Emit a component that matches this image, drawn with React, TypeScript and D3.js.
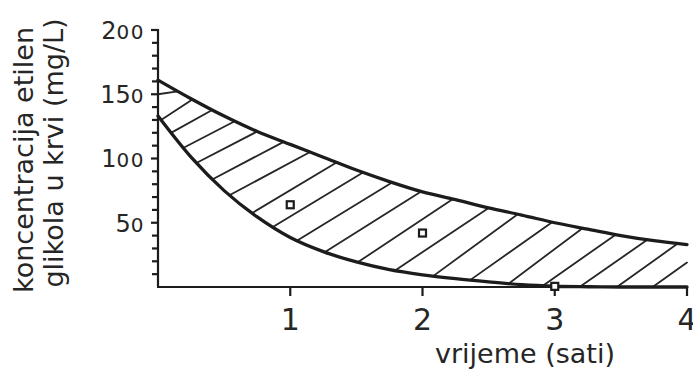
import React from "react";
import * as d3 from "d3";

// ---- data ----
const hours = [0, 0.25, 0.5, 0.75, 1, 1.25, 1.5, 1.75, 2, 2.25, 2.5, 2.75, 3, 3.25, 3.5, 3.75, 4];
const upperConc = [161, 146.5, 133, 121, 111, 101, 91, 82, 74, 68, 61.5, 56, 50, 45, 40, 36, 33];
const lowerConc = [133, 101, 75, 54.5, 38.5, 27.5, 19.5, 13.5, 9.5, 6.5, 4, 1.8, 0.6, 0.2, 0, 0, 0];

const pointHours = [1, 2, 3];
const pointConc = [64, 42, 0.5];

const yMajorTicks = [50, 100, 150, 200];
const yMinorTicks = [10, 20, 30, 40, 60, 70, 80, 90, 110, 120, 130, 140, 160, 170, 180, 190];
const xTicks = [1, 2, 3, 4];
const xTickLabels = ["1", "2", "3", "4"];

// hatch lines: where each stroke meets the lower and the upper boundary (hours)
const hatchLowerHours = [0, 0.023, 0.098, 0.19, 0.29, 0.41, 0.54, 0.71, 0.865, 1.05, 1.26, 1.51, 1.79, 2.08, 2.36, 2.65, 2.91, 3.19, 3.47, 3.74];
const hatchUpperHours = [0.149, 0.26, 0.41, 0.58, 0.75, 0.95, 1.15, 1.35, 1.55, 1.77, 1.99, 2.23, 2.5, 2.72, 2.98, 3.21, 3.46, 3.7, 3.93, 4];
const firstHatchAxisConc = 150; // first stroke starts on the y axis
const lastHatchEdgeConc = 19; // last stroke ends on the right edge

const yTitle1 = "koncentracija etilen";
const yTitle2 = "glikola u krvi (mg/L)";
const xTitle = "vrijeme (sati)";

// ---- layout ----
const W = 693;
const H = 370;
const xScale = d3.scaleLinear().domain([0, 4]).range([158, 687]);
const yScale = d3.scaleLinear().domain([0, 200]).range([287, 30]);

const INK = "#1c1c1c";
const TEXT = "#262626";
const FONT = "'DejaVu Sans', 'Liberation Sans', sans-serif";

// evaluate d3.curveMonotoneX at an arbitrary x (same tangent rule as d3)
function monotoneAt(xs: number[], ys: number[], xv: number): number {
  const n = xs.length;
  const sign = (v: number) => (v < 0 ? -1 : 1);
  const t: number[] = new Array(n).fill(0);
  for (let i = 1; i < n - 1; i++) {
    const h0 = xs[i] - xs[i - 1];
    const h1 = xs[i + 1] - xs[i];
    const s0 = (ys[i] - ys[i - 1]) / h0;
    const s1 = (ys[i + 1] - ys[i]) / h1;
    const p = (s0 * h1 + s1 * h0) / (h0 + h1);
    t[i] = (sign(s0) + sign(s1)) * Math.min(Math.abs(s0), Math.abs(s1), 0.5 * Math.abs(p)) || 0;
  }
  const hA = xs[1] - xs[0];
  t[0] = (3 * (ys[1] - ys[0]) / hA - t[1]) / 2;
  const hB = xs[n - 1] - xs[n - 2];
  t[n - 1] = (3 * (ys[n - 1] - ys[n - 2]) / hB - t[n - 2]) / 2;
  let i = 0;
  while (i < n - 2 && xv > xs[i + 1]) i++;
  const dx = xs[i + 1] - xs[i];
  const u = (xv - xs[i]) / dx;
  const y0 = ys[i];
  const y1 = ys[i + 1];
  const c0 = y0 + (dx * t[i]) / 3;
  const c1 = y1 - (dx * t[i + 1]) / 3;
  const a = 1 - u;
  return a * a * a * y0 + 3 * a * a * u * c0 + 3 * a * u * u * c1 + u * u * u * y1;
}

function splitZeros(label: string) {
  const m = label.match(/^(.*?)(0*)$/);
  return { head: m ? m[1] : label, zeros: m ? m[2] : "" };
}

export default function App() {
  const line = d3
    .line<number>()
    .x((_, i) => xScale(hours[i]))
    .curve(d3.curveMonotoneX);
  const upperPath = line.y((d) => yScale(d))(upperConc) || "";
  const lowerPath = line.y((d) => yScale(d))(lowerConc) || "";

  const hatches = hatchLowerHours.map((xl, i) => {
    const xu = hatchUpperHours[i];
    const yl = i === 0 ? firstHatchAxisConc : monotoneAt(hours, lowerConc, xl);
    const yu = i === hatchLowerHours.length - 1 ? lastHatchEdgeConc : monotoneAt(hours, upperConc, xu);
    return { x1: xScale(xl), y1: yScale(yl), x2: xScale(xu), y2: yScale(yu) };
  });

  const x0 = xScale(0);
  const y0 = yScale(0);

  return (
    <svg
      width={W}
      height={H}
      viewBox={`0 0 ${W} ${H}`}
      style={{ position: "absolute", left: 0, top: 0, background: "#ffffff" }}
    >
      {/* hatching */}
      <g stroke="#262626" strokeWidth={1.8} strokeLinecap="round">
        {hatches.map((h, i) => (
          <line key={i} x1={h.x1} y1={h.y1} x2={h.x2} y2={h.y2} />
        ))}
      </g>

      {/* axes */}
      <g stroke={INK} strokeWidth={2.2} fill="none">
        <line x1={x0} y1={y0} x2={x0} y2={yScale(200) - 1} />
        <line x1={x0 - 1} y1={y0} x2={xScale(4)} y2={y0} />
        {yMinorTicks.map((v) => (
          <line key={"m" + v} x1={x0 - 6} y1={yScale(v)} x2={x0} y2={yScale(v)} />
        ))}
        {yMajorTicks.map((v) => (
          <line key={"M" + v} x1={x0 - 7} y1={yScale(v)} x2={x0} y2={yScale(v)} />
        ))}
        {xTicks.map((v) => (
          <line key={"x" + v} x1={xScale(v)} y1={y0} x2={xScale(v)} y2={y0 + 9} />
        ))}
      </g>

      {/* boundary curves */}
      <path d={upperPath} fill="none" stroke={INK} strokeWidth={3.3} strokeLinecap="round" />
      <path d={lowerPath} fill="none" stroke={INK} strokeWidth={3.3} strokeLinecap="round" />

      {/* measured points */}
      {pointHours.map((h, i) => (
        <rect
          key={"p" + i}
          x={xScale(h) - 3.5}
          y={yScale(pointConc[i]) - 3.5}
          width={7}
          height={7}
          fill="#ffffff"
          stroke={INK}
          strokeWidth={2.2}
        />
      ))}

      {/* y tick labels (old-style zeros) */}
      <g fill={TEXT} fontFamily={FONT} textAnchor="end">
        {yMajorTicks.map((v) => {
          const { head, zeros } = splitZeros(String(v));
          return (
            <text key={"yl" + v} x={145} y={yScale(v) + 8.8} fontSize={24}>
              {head}
              <tspan fontSize={20} letterSpacing={1.5}>{zeros}</tspan>
            </text>
          );
        })}
      </g>

      {/* x tick labels */}
      <g fill={TEXT} fontFamily={FONT} textAnchor="middle" fontSize={30}>
        {xTicks.map((v, i) => (
          <text key={"xl" + v} x={xScale(v)} y={330}>
            {xTickLabels[i]}
          </text>
        ))}
      </g>

      {/* titles */}
      <g fill={TEXT} fontFamily={FONT} fontSize={27} textAnchor="middle">
        <text transform="translate(33,160) rotate(-90)">{yTitle1}</text>
        <text transform="translate(63,153) rotate(-90)">{yTitle2}</text>
        <text x={525} y={363}>{xTitle}</text>
      </g>
    </svg>
  );
}
